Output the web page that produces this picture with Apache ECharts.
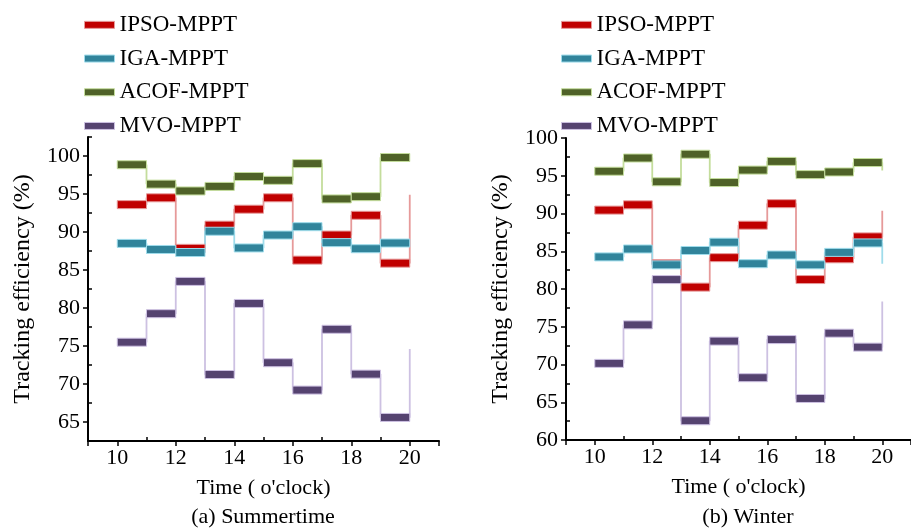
<!DOCTYPE html>
<html>
<head>
<meta charset="utf-8">
<script src="https://cdn.jsdelivr.net/npm/echarts@6/dist/echarts.min.js"></script>
<style>
	html, body { margin: 0; padding: 0; background: #fff; }
	#chart { width: 911px; height: 529px; }
</style>
</head>
<body>
<div id="chart"></div>
<script>
// Hours (x), one value per hour, the last one only closes the step
const hours = [10, 11, 12, 13, 14, 15, 16, 17, 18, 19, 20]
const names = ['IPSO-MPPT', 'IGA-MPPT', 'ACOF-MPPT', 'MVO-MPPT']

// (a) Summertime
const summerIPSO = [93.6, 94.5, 87.85, 90.9, 93.0, 94.5, 86.3, 89.6, 92.2, 85.9, 94.9]
const summerIGA = [88.5, 87.7, 87.3, 90.1, 87.9, 89.6, 90.7, 88.6, 87.8, 88.55, 88.55]
const summerACOF = [98.85, 96.3, 95.4, 96.0, 97.3, 96.8, 99.0, 94.35, 94.65, 99.8, 99.8]
const summerMVO = [75.5, 79.25, 83.5, 71.25, 80.6, 72.8, 69.2, 77.2, 71.3, 65.6, 74.6]

// (b) Winter
const winterIPSO = [90.45, 91.15, 83.35, 80.25, 84.15, 88.45, 91.3, 81.25, 84.0, 86.9, 90.35]
const winterIGA = [84.25, 85.3, 83.2, 85.1, 86.2, 83.35, 84.5, 83.2, 84.85, 86.1, 83.35]
const winterACOF = [95.6, 97.35, 94.2, 97.85, 94.1, 95.75, 96.9, 95.15, 95.5, 96.75, 95.7]
const winterMVO = [70.15, 75.25, 81.25, 62.55, 73.1, 68.25, 73.3, 65.5, 74.15, 72.3, 78.35]

// Tick positions
const xMajorTicks = [9, 10, 12, 14, 16, 18, 20, 21]
const xLabels = [10, 12, 14, 16, 18, 20]
const xMinorTicks = [11, 13, 15, 17, 19]
const ySummerLabels = [65, 70, 75, 80, 85, 90, 95, 100]
const ySummerMinor = [62.5, 67.5, 72.5, 77.5, 82.5, 87.5, 92.5, 97.5, 102.5]
const yWinterLabels = [60, 65, 70, 75, 80, 85, 90, 95, 100]
const yWinterMinor = [62.5, 67.5, 72.5, 77.5, 82.5, 87.5, 92.5, 97.5]

const colors = ['#c00000', '#31849b', '#4f6228', '#554370']
const lightColors = ['#e69a9a', '#9fdceb', '#c4dd9c', '#cdc1e2']

const FONT = 'Liberation Serif'

var chart = echarts.init(document.getElementById('chart'))

// thick horizontal piece for each hour
renderSeg = (color, light) => (params, api) => {
	const x = api.value(0)
	const y = api.value(1)
	const p0 = api.coord([x, y])
	const p1 = api.coord([x + 1, y])
	return {
		type: 'rect',
		shape: { x: p0[0], y: p0[1] - 4, width: p1[0] - p0[0], height: 8 },
		style: { fill: color, stroke: light, lineWidth: 1 },
	}
}

makeSeries = (values, i, axisIdx) => {
	const pts = hours.map((h, k) => [h, values[k]])
	return [
		{
			name: names[i],
			type: 'line',
			step: 'end',
			xAxisIndex: axisIdx,
			yAxisIndex: axisIdx,
			showSymbol: false,
			color: colors[i],
			lineStyle: { color: lightColors[i], width: 1.8 },
			data: pts,
			z: 2,
		},
		{
			name: names[i],
			type: 'custom',
			xAxisIndex: axisIdx,
			yAxisIndex: axisIdx,
			color: colors[i],
			renderItem: renderSeg(colors[i], lightColors[i]),
			data: pts.slice(0, 10),
			z: 3,
		},
	]
}

xAxes = (grid) => [
	{
		type: 'value',
		gridIndex: grid,
		position: 'bottom',
		min: 9,
		max: 21,
		axisLine: { lineStyle: { color: '#000', width: 2 } },
		axisTick: { customValues: xMajorTicks, length: 5, lineStyle: { color: '#000', width: 1.5 } },
		axisLabel: { customValues: xLabels, color: '#000', fontFamily: FONT, fontSize: 22, margin: 6 },
		splitLine: { show: false },
		name: 'Time ( o\'clock)',
		nameLocation: 'middle',
		nameGap: 36,
		nameTextStyle: { color: '#000', fontFamily: FONT, fontSize: 22 },
	},
	{
		type: 'value',
		gridIndex: grid,
		position: 'bottom',
		min: 9,
		max: 21,
		axisLine: { show: false },
		axisTick: { inside: true, customValues: xMinorTicks, length: 4, lineStyle: { color: '#000', width: 1.5 } },
		axisLabel: { show: false },
		splitLine: { show: false },
	},
]

yAxes = (grid, min, max, labels, minor) => [
	{
		type: 'value',
		gridIndex: grid,
		position: 'left',
		min: min,
		max: max,
		axisLine: { show: true, lineStyle: { color: '#000', width: 2 } },
		axisTick: { show: true, customValues: labels, length: 5, lineStyle: { color: '#000', width: 1.5 } },
		axisLabel: { customValues: labels, color: '#000', fontFamily: FONT, fontSize: 22, margin: 8 },
		splitLine: { show: false },
		name: 'Tracking efficiency (%)',
		nameLocation: 'middle',
		nameGap: 53,
		nameTextStyle: { color: '#000', fontFamily: FONT, fontSize: 24 },
	},
	{
		type: 'value',
		gridIndex: grid,
		position: 'left',
		min: min,
		max: max,
		axisLine: { show: false },
		axisTick: { show: true, inside: true, customValues: minor, length: 4, lineStyle: { color: '#000', width: 1.5 } },
		axisLabel: { show: false },
		splitLine: { show: false },
	},
]

legendFor = (left) => ({
	orient: 'vertical',
	left: left,
	top: 13,
	padding: 0,
	itemWidth: 30,
	itemHeight: 7,
	itemGap: 10,
	textStyle: { color: '#000', fontFamily: FONT, fontSize: 23, lineHeight: 23.7 },
	data: names.map((n, i) => ({
		name: n,
		icon: 'rect',
		itemStyle: { color: colors[i], borderColor: lightColors[i], borderWidth: 1 },
	})),
})

const summer = [summerIPSO, summerIGA, summerACOF, summerMVO]
const winter = [winterIPSO, winterIGA, winterACOF, winterMVO]

let series = []
summer.forEach((v, i) => { series = series.concat(makeSeries(v, i, 0)) })
winter.forEach((v, i) => { series = series.concat(makeSeries(v, i, 2)) })

const subTitle = { color: '#000', fontFamily: FONT, fontSize: 22, fontWeight: 'normal' }

const option = {
	animation: false,
	backgroundColor: '#fff',
	title: [
		{ text: '(a) Summertime', left: 263, top: 506, padding: 0, textAlign: 'center', textStyle: subTitle },
		{ text: '(b) Winter', left: 748, top: 506, padding: 0, textAlign: 'center', textStyle: subTitle },
	],
	legend: [legendFor(84), legendFor(561)],
	grid: [
		{ left: 88, top: 137, width: 351, height: 304 },
		{ left: 566, top: 138, width: 353, height: 302 },
	],
	xAxis: xAxes(0).concat(xAxes(1)),
	yAxis: yAxes(0, 62.5, 102.5, ySummerLabels, ySummerMinor).concat(yAxes(1, 60, 100, yWinterLabels, yWinterMinor)),
	series: series,
}

chart.setOption(option)
</script>
</body>
</html>
